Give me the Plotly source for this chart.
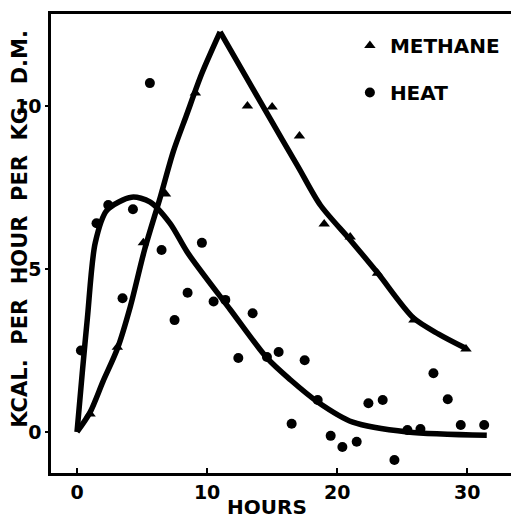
import plotly.graph_objects as go

# Observed points
methane_x = [1.0, 3.1, 5.1, 6.8, 9.1, 13.1, 15.0, 17.1, 19.0, 21.0, 23.1, 25.9, 29.9]
methane_y = [0.55, 2.6, 5.8, 7.3, 10.4, 10.0, 9.97, 9.08, 6.38, 5.98, 4.87, 3.43, 2.54]

heat_x = [0.3, 1.5, 2.4, 3.5, 4.3, 5.6, 6.5, 7.5, 8.5, 9.6, 10.5, 11.4, 12.4, 13.5,
          14.6, 15.5, 16.5, 17.5, 18.5, 19.5, 20.4, 21.5, 22.4, 23.5, 24.4, 25.4,
          26.4, 27.4, 28.5, 29.5, 31.3]
heat_y = [2.5, 6.4, 6.96, 4.1, 6.83, 10.7, 5.58, 3.43, 4.27, 5.8, 4.0, 4.05, 2.27, 3.64,
          2.3, 2.45, 0.25, 2.2, 0.98, -0.12, -0.46, -0.3, 0.88, 0.98, -0.86, 0.06,
          0.09, 1.8, 1.0, 0.21, 0.21]

# Fitted curves
methane_rise_x = [0.0, 1.0, 2.0, 3.1, 4.1, 5.2, 6.4, 7.4, 8.4, 9.6, 11.0]
methane_rise_y = [0.0, 0.6, 1.55, 2.55, 3.85, 5.6, 7.2, 8.6, 9.7, 11.0, 12.27]
methane_fall_x = [11.0, 15.0, 17.0, 18.7, 21.0, 23.1, 25.85, 27.8, 29.8]
methane_fall_y = [12.27, 9.5, 8.13, 6.96, 5.89, 4.88, 3.5, 3.0, 2.58]

heat_curve_x = [0.0, 0.4, 0.8, 1.4, 2.3, 4.2, 5.6, 7.15, 8.5, 11.8, 14.6,
                16.4, 18.5, 21.2, 25.4, 31.5]
heat_curve_y = [0.0, 1.8, 3.5, 5.8, 6.8, 7.2, 7.06, 6.4, 5.5, 3.74, 2.27,
                1.6, 0.92, 0.3, 0.0, -0.1]

x_ticks = [0, 10, 20, 30]
y_ticks = [0, 5, 10]

FONT = "DejaVu Sans"
NB = "\u00a0"
ZW = "\u200b"
y_title = ZW + NB * 4 + (NB * 2).join(["KCAL.", "PER", "HOUR", "PER", "KG.", "D.M."])
x_title = "HOURS"

fig = go.Figure()
line_style = dict(color="black", width=5.5, shape="spline", smoothing=0.8)
fig.add_trace(go.Scatter(x=methane_rise_x, y=methane_rise_y, mode="lines",
                         line=line_style, showlegend=False, hoverinfo="skip"))
fig.add_trace(go.Scatter(x=methane_fall_x, y=methane_fall_y, mode="lines",
                         line=line_style, showlegend=False, hoverinfo="skip"))
fig.add_trace(go.Scatter(x=heat_curve_x, y=heat_curve_y, mode="lines",
                         line=line_style, showlegend=False, hoverinfo="skip"))
fig.add_trace(go.Scatter(x=methane_x, y=methane_y, mode="markers", name="METHANE",
                         legendgroup="m",
                         marker=dict(symbol="triangle-up", size=10, color="black")))
fig.add_trace(go.Scatter(x=heat_x, y=heat_y, mode="markers", name="HEAT",
                         legendgroup="h",
                         marker=dict(symbol="circle", size=10, color="black")))

fig.add_annotation(text=x_title, xref="paper", yref="paper", x=0.4625, y=0,
                   xanchor="center", yanchor="top", yshift=-21, showarrow=False,
                   borderpad=0,
                   font=dict(family=FONT, size=20, color="black", weight="bold"))

fig.update_layout(
    width=511, height=512,
    margin=dict(l=43, r=1, t=6, b=47),
    paper_bgcolor="white", plot_bgcolor="white",
    font=dict(family=FONT, color="black", size=19, weight="bold"),
    legend=dict(x=0.64, y=0.974, xanchor="left", yanchor="top",
                bgcolor="rgba(0,0,0,0)", tracegroupgap=18,
                font=dict(family=FONT, size=20, color="black", weight="bold"),
                itemwidth=30),
    xaxis=dict(range=[-2.0, 33.9], tickvals=x_ticks, ticks="inside", ticklen=5,
               tickwidth=2, tickcolor="black", showline=True, linecolor="black",
               linewidth=2.5, mirror=True, showgrid=False, zeroline=False,
               automargin=False,
               tickfont=dict(family=FONT, size=19, weight="bold")),
    yaxis=dict(range=[-1.26, 12.82], tickvals=y_ticks, ticks="outside", ticklen=3,
               tickwidth=2, tickcolor="black", showline=True, linecolor="black",
               linewidth=2.5, mirror=True, showgrid=False, zeroline=False,
               automargin=False,
               title=dict(text=y_title, standoff=3,
                          font=dict(family=FONT, size=21, weight="bold")),
               tickfont=dict(family=FONT, size=19, weight="bold")),
)

fig.write_html("out.html")
